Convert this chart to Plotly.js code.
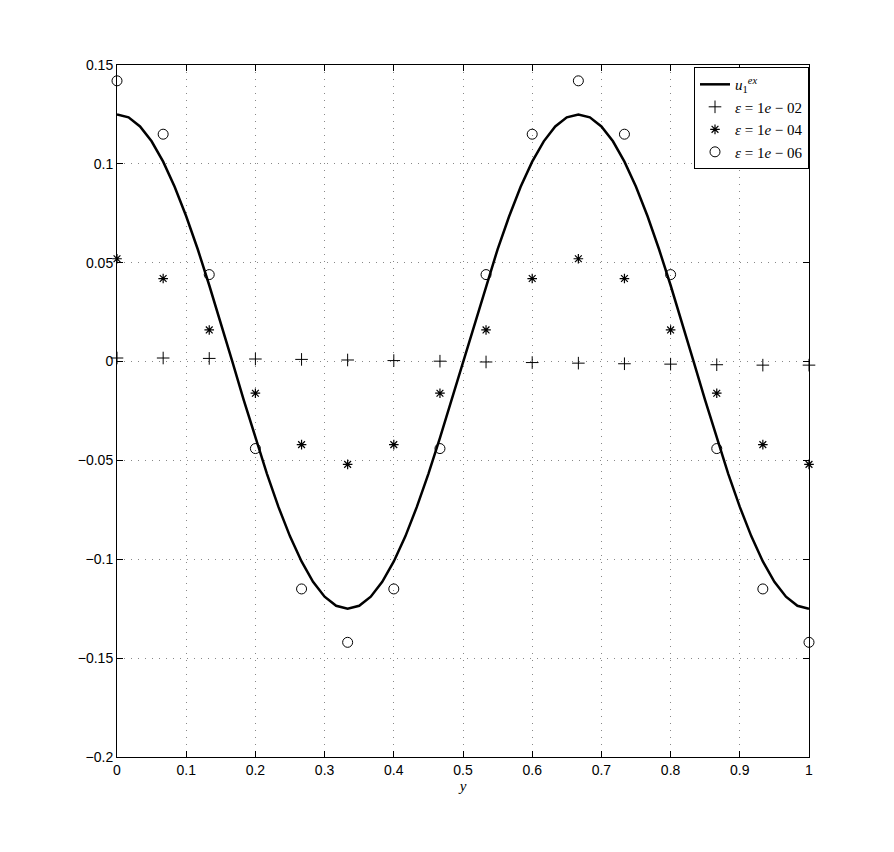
<!DOCTYPE html>
<html>
<head>
<meta charset="utf-8">
<script src="https://cdn.plot.ly/plotly-3.0.1.min.js"></script>
<style>html,body{margin:0;padding:0;background:#fff;}#chart{width:894px;height:852px;}</style>
</head>
<body>
<div id="chart"></div>
<script>
// Exact curve u1^ex
var curveX = [0, 0.0167, 0.0333, 0.05, 0.0667, 0.0833, 0.1, 0.1167, 0.1333, 0.15, 0.1667, 0.1833, 0.2, 0.2167, 0.2333, 0.25, 0.2667, 0.2833, 0.3, 0.3167, 0.3333, 0.35, 0.3667, 0.3833, 0.4, 0.4167, 0.4333, 0.45, 0.4667, 0.4833, 0.5, 0.5167, 0.5333, 0.55, 0.5667, 0.5833, 0.6, 0.6167, 0.6333, 0.65, 0.6667, 0.6833, 0.7, 0.7167, 0.7333, 0.75, 0.7667, 0.7833, 0.8, 0.8167, 0.8333, 0.85, 0.8667, 0.8833, 0.9, 0.9167, 0.9333, 0.95, 0.9667, 0.9833, 1];
var curveY = [0.125, 0.1235, 0.1189, 0.1114, 0.1011, 0.0884, 0.0735, 0.0568, 0.0386, 0.0196, 0, -0.0196, -0.0386, -0.0568, -0.0735, -0.0884, -0.1011, -0.1114, -0.1189, -0.1235, -0.125, -0.1235, -0.1189, -0.1114, -0.1011, -0.0884, -0.0735, -0.0568, -0.0386, -0.0196, 0, 0.0196, 0.0386, 0.0568, 0.0735, 0.0884, 0.1011, 0.1114, 0.1189, 0.1235, 0.125, 0.1235, 0.1189, 0.1114, 0.1011, 0.0884, 0.0735, 0.0568, 0.0386, 0.0196, 0, -0.0196, -0.0386, -0.0568, -0.0735, -0.0884, -0.1011, -0.1114, -0.1189, -0.1235, -0.125];

// Marker positions
var markX = [0, 0.0667, 0.1333, 0.2, 0.2667, 0.3333, 0.4, 0.4667, 0.5333, 0.6, 0.6667, 0.7333, 0.8, 0.8667, 0.9333, 1];
var eps2Y = [0.0018, 0.0018, 0.0016, 0.0013, 0.0011, 0.0008, 0.0005, 0.0002, -0.0002, -0.0005, -0.0008, -0.0011, -0.0013, -0.0016, -0.0018, -0.0018];
var eps4Y = [0.052, 0.042, 0.016, -0.016, -0.042, -0.052, -0.042, -0.016, 0.016, 0.042, 0.052, 0.042, 0.016, -0.016, -0.042, -0.052];
var eps6Y = [0.142, 0.115, 0.044, -0.044, -0.115, -0.142, -0.115, -0.044, 0.044, 0.115, 0.142, 0.115, 0.044, -0.044, -0.115, -0.142];

var names = ['<i>u</i><sub>1</sub><sup><i>ex</i></sup>', '<i>ε</i> = 1<i>e</i> − 02', '<i>ε</i> = 1<i>e</i> − 04', '<i>ε</i> = 1<i>e</i> − 06'];
var xTicks = [0, 0.1, 0.2, 0.3, 0.4, 0.5, 0.6, 0.7, 0.8, 0.9, 1];
var yTicks = [-0.2, -0.15, -0.1, -0.05, 0, 0.05, 0.1, 0.15];

var traces = [
  {x: curveX, y: curveY, mode: 'lines', name: names[0], line: {color: '#000', width: 2.5, shape: 'linear'}},
  {x: markX, y: eps2Y, mode: 'markers', name: names[1], cliponaxis: false,
   marker: {symbol: 'cross-thin-open', size: 9, color: '#000', line: {color: '#000', width: 1}}},
  {x: markX, y: eps4Y, mode: 'markers', name: names[2], cliponaxis: false,
   marker: {symbol: 'asterisk-open', size: 8, color: '#000', line: {color: '#000', width: 1.2}}},
  {x: markX, y: eps6Y, mode: 'markers', name: names[3], cliponaxis: false,
   marker: {symbol: 'circle-open', size: 10, color: '#000', line: {color: '#000', width: 1}}}
];

var axisCommon = {
  showline: true, linecolor: '#000', linewidth: 1, mirror: 'ticks',
  ticks: 'inside', ticklen: 6, tickcolor: '#000', tickwidth: 1,
  showgrid: true, gridcolor: '#888', griddash: '1px,6px', gridwidth: 1,
  zeroline: false, tickfont: {family: 'Liberation Sans', size: 14, color: '#000'}
};

var layout = {
  width: 894, height: 852,
  margin: {l: 117, r: 85, t: 65, b: 95},
  paper_bgcolor: '#fff', plot_bgcolor: '#fff',
  showlegend: true,
  xaxis: Object.assign({}, axisCommon, {
    range: [0, 1], tickvals: xTicks, ticktext: xTicks.map(String),
    title: {text: '<i>y</i>', font: {family: 'Liberation Serif', size: 15, color: '#000'}, standoff: 0}
  }),
  yaxis: Object.assign({}, axisCommon, {
    range: [-0.2, 0.15], tickvals: yTicks,
    ticktext: yTicks.map(function(v){ return (v < 0 ? '\u2212' : '') + String(Math.abs(v)); })
  }),
  legend: {
    x: 1, xanchor: 'right', y: 0.997, yanchor: 'top',
    bgcolor: '#fff', bordercolor: '#000', borderwidth: 1,
    font: {family: 'Liberation Serif', size: 15, color: '#000'},
    tracegroupgap: 0, itemwidth: 30
  }
};

Plotly.newPlot('chart', traces, layout, {displayModeBar: false, staticPlot: true});
</script>
</body>
</html>
